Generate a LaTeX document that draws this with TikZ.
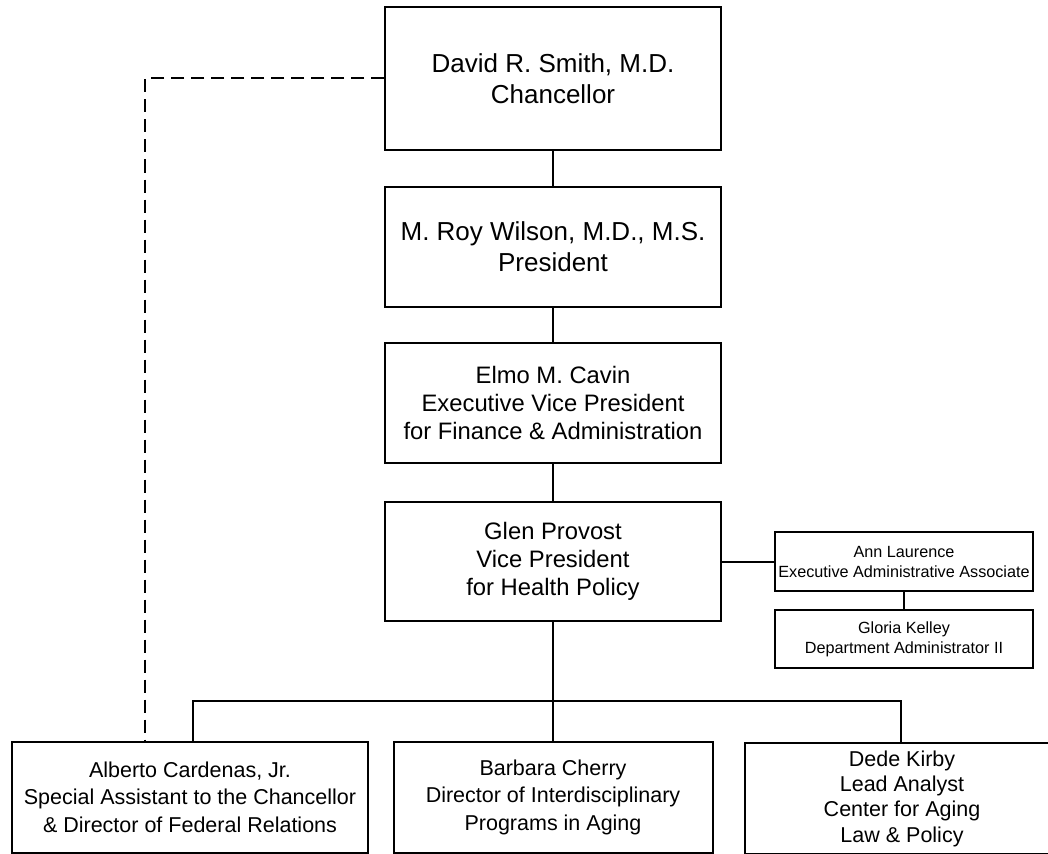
\documentclass[tikz,border=0pt]{standalone}
\usepackage{fontspec}
\setmainfont{Liberation Sans}
\begin{document}
\begin{tikzpicture}[x=1pt,y=-1pt,
  box/.style={draw=black, line width=2pt, inner sep=0pt, align=center, anchor=center},
  big/.style={font=\fontsize{26}{30.7}\selectfont},
  mid/.style={font=\fontsize{23.8}{28.3}\selectfont},
  low/.style={font=\fontsize{21.5}{27.8}\selectfont},
  lowtight/.style={font=\fontsize{21.5}{25.3}\selectfont},
  small/.style={font=\fontsize{16.2}{20}\selectfont},
  link/.style={line width=2pt},
  dashlink/.style={line width=2pt, dash pattern=on 13pt off 7pt}]
\useasboundingbox (0,0) rectangle (1048,853);
\clip (0,0) rectangle (1048,853);
\node[box,big,minimum width=336pt,minimum height=143pt] (chan) at (553,78.5) {David R. Smith, M.D.\\Chancellor};
\node[box,big,minimum width=336pt,minimum height=120pt] (pres) at (553,247) {M. Roy Wilson, M.D., M.S.\\President};
\node[box,mid,minimum width=336pt,minimum height=120pt] (evp) at (553,403) {Elmo M. Cavin\\Executive Vice President\\for Finance \& Administration};
\node[box,mid,minimum width=336pt,minimum height=119pt] (vp) at (553,561.5) {Glen Provost\\Vice President\\for Health Policy};
\node[box,small,minimum width=258pt,minimum height=59pt] (ann) at (904,561.5) {Ann Laurence\\Executive Administrative Associate};
\node[box,small,minimum width=258pt,minimum height=58pt] (gloria) at (904,639) {Gloria Kelley\\Department Administrator II};
\node[box,low,minimum width=356pt,minimum height=110.5pt] (alberto) at (190,797.25) {Alberto Cardenas, Jr.\\Special Assistant to the Chancellor\\\& Director of Federal Relations};
\node[box,low,minimum width=319pt,minimum height=110.5pt] (barbara) at (553,797.25) {Barbara Cherry\\Director of Interdisciplinary\\Programs in Aging};
\node[box,lowtight,minimum width=314pt,minimum height=110.5pt] (dede) at (902,798.5) {Dede Kirby\\Lead Analyst\\Center for Aging\\Law \& Policy};
\coordinate (bus) at (553,701);
\coordinate (busL) at (193,701);
\coordinate (busR) at (901,701);
\coordinate (dashX) at (145,0);
\draw[link] (chan.south) -- (pres.north);
\draw[link] (pres.south) -- (evp.north);
\draw[link] (evp.south) -- (vp.north);
\draw[link] (vp.east) -- (ann.west);
\draw[link] (ann.south) -- (gloria.north);
\draw[link] (vp.south) -- (bus) -- (barbara.north);
\draw[link] (busL |- alberto.north) -- (busL) -- (busR) -- (busR |- dede.north);
\draw[dashlink] (chan.west) -| (dashX |- alberto.north);
\end{tikzpicture}
\end{document}
